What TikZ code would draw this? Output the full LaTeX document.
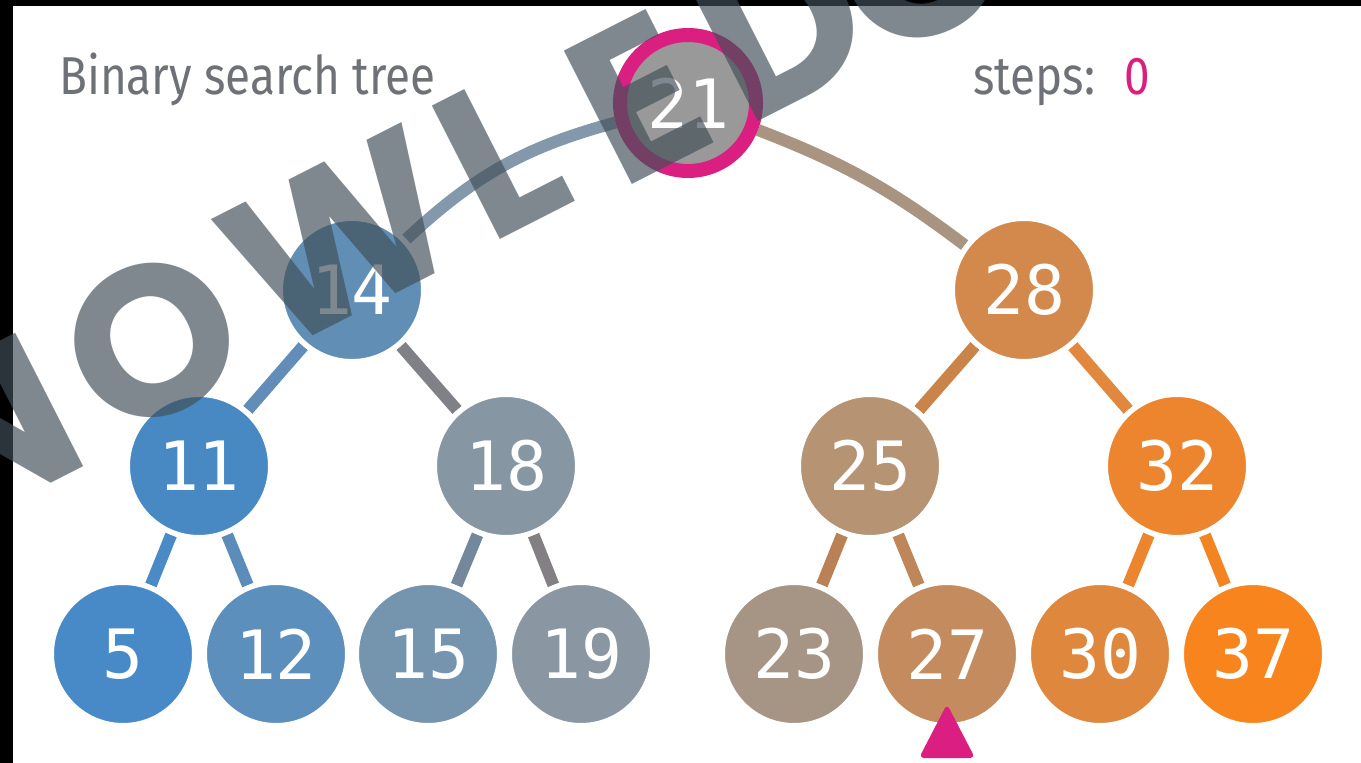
\documentclass[tikz,border=0pt]{standalone}
\usepackage{fontspec}
\setmainfont{Fira Sans}
\newfontfamily\numfont{DejaVu Sans Mono}
\newfontfamily\titlefont{Fira Sans}[FakeStretch=0.86]
\newfontfamily\wmfont{Poppins}
\usetikzlibrary{backgrounds}
\definecolor{c21}{RGB}{153,153,153}
\definecolor{ring}{RGB}{219,31,128}
\definecolor{c14}{RGB}{97,142,181}
\definecolor{c28}{RGB}{212,137,76}
\definecolor{c11}{RGB}{72,137,196}
\definecolor{c18}{RGB}{135,150,163}
\definecolor{c25}{RGB}{181,147,115}
\definecolor{c32}{RGB}{236,133,46}
\definecolor{c5}{RGB}{72,138,200}
\definecolor{c12}{RGB}{92,143,188}
\definecolor{c15}{RGB}{117,149,174}
\definecolor{c19}{RGB}{138,150,162}
\definecolor{c23}{RGB}{166,149,133}
\definecolor{c27}{RGB}{196,140,94}
\definecolor{c30}{RGB}{223,135,61}
\definecolor{c37}{RGB}{247,132,28}
\definecolor{eA}{RGB}{132,152,172}
\definecolor{eB}{RGB}{168,148,128}
\definecolor{eC}{RGB}{98,141,184}
\definecolor{eD}{RGB}{128,129,134}
\definecolor{eE}{RGB}{74,138,198}
\definecolor{eF}{RGB}{92,141,186}
\definecolor{eG}{RGB}{116,136,156}
\definecolor{eH}{RGB}{130,128,131}
\definecolor{eI}{RGB}{202,132,74}
\definecolor{eJ}{RGB}{226,135,62}
\definecolor{eK}{RGB}{186,130,84}
\definecolor{eL}{RGB}{190,135,90}
\definecolor{eM}{RGB}{236,133,46}
\definecolor{eN}{RGB}{243,132,34}
\definecolor{titlegray}{RGB}{110,113,119}
\definecolor{wm}{RGB}{64,79,87}
\begin{document}
\begin{tikzpicture}[x=0.75pt,y=-0.75pt,
  bst/.style={circle,fill=#1,draw=white,line width=4pt,minimum size=107.5pt,
    inner sep=0pt,text=white,font=\numfont\fontsize{51}{51}\selectfont},
  link/.style={line width=9pt,draw=#1},
  label text/.style={anchor=base west,inner sep=0pt,
    font=\titlefont\fontsize{40}{40}\selectfont},
  wmletter/.style={rotate=27,anchor=center,inner sep=0pt,text=wm,opacity=0.67,
    font=\wmfont\bfseries\fontsize{160}{160}\selectfont}]
\useasboundingbox (0,0) rectangle (1361,763);
% nodes
\node[bst=c21,draw=ring,line width=10.5pt,minimum size=102pt] (n21) at (688,103) {21};
\node[bst=c14] (n14) at (352,290) {14};
\node[bst=c28] (n28) at (1024,290) {28};
\node[bst=c11] (n11) at (199,466) {11};
\node[bst=c18] (n18) at (506,466) {18};
\node[bst=c25] (n25) at (870,466) {25};
\node[bst=c32] (n32) at (1177,466) {32};
\node[bst=c5]  (n5)  at (123,654) {5};
\node[bst=c12] (n12) at (276,654) {12};
\node[bst=c15] (n15) at (428,654) {15};
\node[bst=c19] (n19) at (581,654) {19};
\node[bst=c23] (n23) at (794,654) {23};
\node[bst=c27] (n27) at (947,654) {27};
\node[bst=c30] (n30) at (1100,654) {30};
\node[bst=c37] (n37) at (1253,654) {37};
% background + edges
\begin{scope}[on background layer]
\fill[white] (0,0) rectangle (1361,763);
\fill[black] (0,0) rectangle (12.5,763);
\fill[black] (0,0) rectangle (1361,6);
\draw[link=eA] (n21) to[bend right=14] (n14);
\draw[link=eB] (n21) to[bend left=8] (n28);
\draw[link=eC] (n14) -- (n11);
\draw[link=eD] (n14) -- (n18);
\draw[link=eE] (n11) -- (n5);
\draw[link=eF] (n11) -- (n12);
\draw[link=eG] (n18) -- (n15);
\draw[link=eH] (n18) -- (n19);
\draw[link=eI] (n28) -- (n25);
\draw[link=eJ] (n28) -- (n32);
\draw[link=eK] (n25) -- (n23);
\draw[link=eL] (n25) -- (n27);
\draw[link=eM] (n32) -- (n30);
\draw[link=eN] (n32) -- (n37);
\end{scope}
% texts
\node[label text,text=titlegray] (title) at (59,95) {Binary search tree};
\node[label text,text=titlegray] (steps) at (973,95) {steps:};
\node[label text,text=ring] (count) at (1124,95) {0};
% pointer
\fill[ring,rounded corners=4pt] (947,704) -- (975,758) -- (919,758) -- cycle;
% watermark
\begin{scope}
\clip (0,0) rectangle (1361,763);
\node[wmletter] (wmN) at (-10,430) {N};
\node[wmletter] (wmO) at (152,340) {O};
\node[wmletter] (wmW) at (340,238) {W};
\node[wmletter] (wmL) at (500,156) {L};
\node[wmletter] (wmE) at (638,98) {E};
\node[wmletter] (wmD) at (782,26) {D};
\node[wmletter] (wmG) at (918,-38) {G};
\end{scope}
\end{tikzpicture}
\end{document}
